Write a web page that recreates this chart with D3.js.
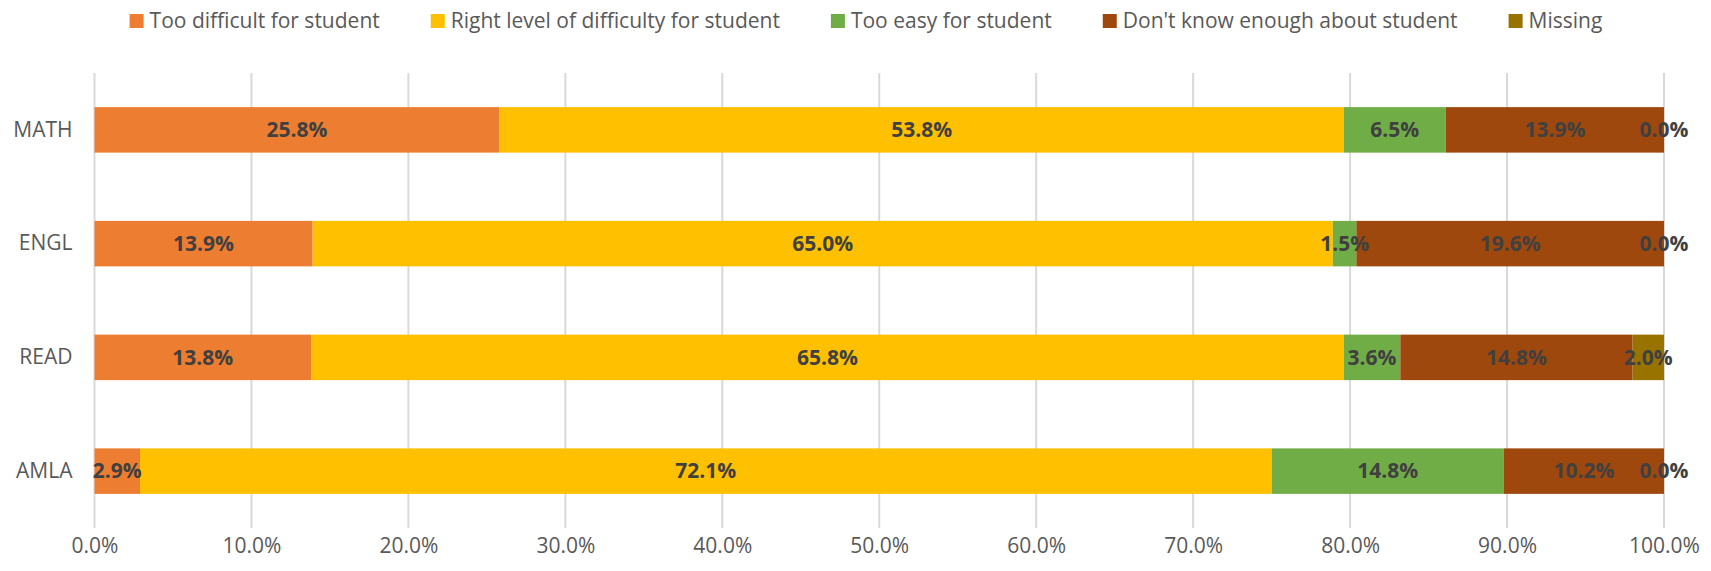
<!DOCTYPE html>
<html>
<head>
<meta charset="utf-8">
<script src="https://cdn.jsdelivr.net/npm/d3@7"></script>
<style>
  body { margin: 0; background: #fff; }
  svg { display: block; font-family: "Open Sans", sans-serif; }
</style>
</head>
<body>
<div id="chart"></div>
<script>
// categories, top to bottom
var subjects = ["MATH", "ENGL", "READ", "AMLA"]

var seriesNames = [
  "Too difficult for student",
  "Right level of difficulty for student",
  "Too easy for student",
  "Don't know enough about student",
  "Missing"
]

// percent values per series, in subject order
var tooDifficult = [25.8, 13.9, 13.8, 2.9]
var rightLevel = [53.8, 65.0, 65.8, 72.1]
var tooEasy = [6.5, 1.5, 3.6, 14.8]
var dontKnow = [13.9, 19.6, 14.8, 10.2]
var missing = [0.0, 0.0, 2.0, 0.0]

var ticks = [0, 10, 20, 30, 40, 50, 60, 70, 80, 90, 100]

var colors = ["#ED7D31", "#FFC000", "#70AD47", "#9E480E", "#997300"]

var width = 1711
var height = 571
var margin = { top: 73, right: 47, bottom: 43, left: 94.5 }

var seriesValues = [tooDifficult, rightLevel, tooEasy, dontKnow, missing]

var rows = subjects.map(function (s, i) {
  var row = { subject: s }
  seriesNames.forEach(function (n, j) { row[n] = seriesValues[j][i] })
  return row
})

var stacked = d3.stack().keys(seriesNames)(rows)

var svg = d3.select("#chart")
  .append("svg")
  .attr("width", width)
  .attr("height", height)

var x = d3.scaleLinear()
  .domain([0, 100])
  .range([margin.left, width - margin.right])

var y = d3.scaleBand()
  .domain(subjects)
  .range([margin.top, height - margin.bottom])
  .paddingInner(0.6)
  .paddingOuter(0.3)

// gridlines
svg.append("g")
  .selectAll("line")
  .data(ticks)
  .enter()
  .append("line")
  .attr("x1", function (d) { return x(d) })
  .attr("x2", function (d) { return x(d) })
  .attr("y1", margin.top)
  .attr("y2", height - margin.bottom)
  .attr("stroke", "#D9D9D9")
  .attr("stroke-width", 2)

// x axis labels
var xAxis = svg.append("g")
  .attr("transform", "translate(0," + (height - margin.bottom) + ")")
  .call(d3.axisBottom(x)
    .tickValues(ticks)
    .tickSize(0)
    .tickPadding(10)
    .tickFormat(function (d) { return d.toFixed(1) + "%" }))
xAxis.select(".domain").remove()
xAxis.selectAll("text")
  .attr("font-size", 21)
  .attr("font-family", "Open Sans")
  .attr("fill", "#595959")

// y axis labels
var yAxis = svg.append("g")
  .attr("transform", "translate(" + (margin.left - 22) + ",0)")
  .call(d3.axisLeft(y).tickSize(0).tickPadding(0))
yAxis.select(".domain").remove()
yAxis.selectAll("text")
  .attr("font-size", 21)
  .attr("font-family", "Open Sans")
  .attr("fill", "#595959")

// bars
var layer = svg.append("g")
  .selectAll("g")
  .data(stacked)
  .enter()
  .append("g")
  .attr("fill", function (d, i) { return colors[i] })

layer.selectAll("rect")
  .data(function (d) { return d })
  .enter()
  .append("rect")
  .attr("x", function (d) { return x(d[0]) })
  .attr("width", function (d) { return x(d[1]) - x(d[0]) })
  .attr("y", function (d) { return y(d.data.subject) })
  .attr("height", y.bandwidth())

// data labels on top of everything
var labels = svg.append("g")
stacked.forEach(function (s) {
  labels.selectAll(null)
    .data(s)
    .enter()
    .append("text")
    .attr("x", function (d) { return (x(d[0]) + x(d[1])) / 2 })
    .attr("y", function (d) { return y(d.data.subject) + y.bandwidth() / 2 })
    .attr("dy", "0.35em")
    .attr("text-anchor", "middle")
    .attr("font-size", 21)
    .attr("font-weight", "bold")
    .attr("fill", "#404040")
    .text(function (d) { return (d[1] - d[0]).toFixed(1) + "%" })
})

// legend
var legend = svg.append("g")
var legendY = 21
var gap = 51
var items = legend.selectAll("g")
  .data(seriesNames)
  .enter()
  .append("g")

items.append("rect")
  .attr("width", 14)
  .attr("height", 14)
  .attr("y", legendY - 7)
  .attr("fill", function (d, i) { return colors[i] })

items.append("text")
  .attr("x", 20)
  .attr("y", legendY)
  .attr("dy", "0.35em")
  .attr("font-size", 21)
  .attr("fill", "#595959")
  .text(function (d) { return d })

var widths = []
items.each(function () { widths.push(this.getBBox().width) })
var total = d3.sum(widths) + gap * (widths.length - 1)
var startX = 866 - total / 2
items.attr("transform", function (d, i) {
  var off = startX + d3.sum(widths.slice(0, i)) + gap * i
  return "translate(" + off + ",0)"
})
</script>
</body>
</html>
